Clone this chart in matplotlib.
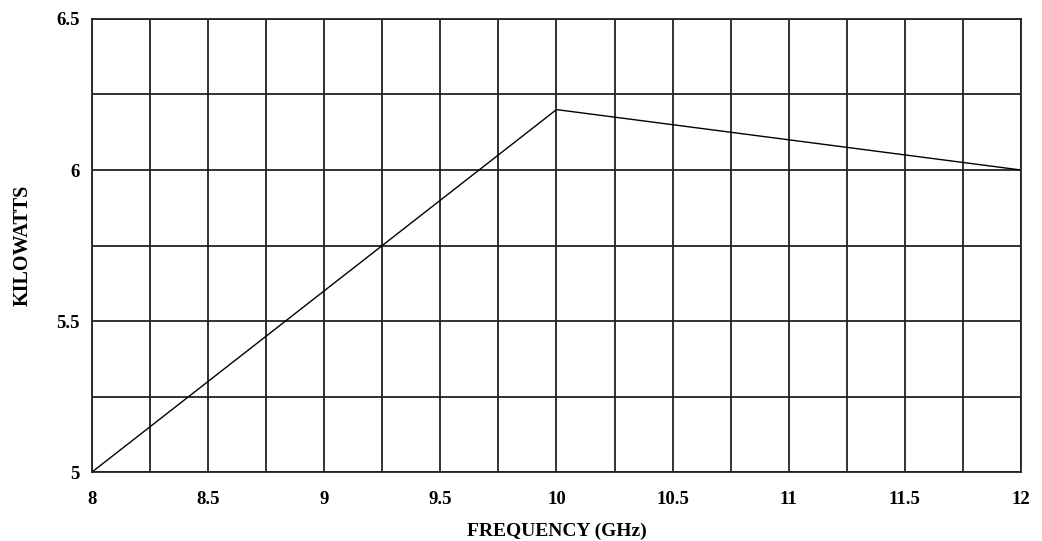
import matplotlib.pyplot as plt
import numpy as np

freq = [8, 10, 12]
kw = [5, 6.2, 6.0]

xticks = [8, 8.5, 9, 9.5, 10, 10.5, 11, 11.5, 12]
xticklabels = ['8', '8.5', '9', '9.5', '10', '10.5', '11', '11.5', '12']
yticks = [5, 5.5, 6, 6.5]
yticklabels = ['5', '5.5', '6', '6.5']

plt.rcParams['font.family'] = 'Liberation Serif'

fig = plt.figure(figsize=(10.42, 5.41), dpi=100)
ax = fig.add_axes([0.0883, 0.1275, 0.8915, 0.8374])

ax.plot(freq, kw, color='black', linewidth=1.0)

ax.set_xlim(8, 12)
ax.set_ylim(5, 6.5)
ax.set_xticks(np.arange(8, 12.01, 0.25), minor=True)
ax.set_yticks(np.arange(5, 6.51, 0.25), minor=True)
ax.set_xticks(xticks)
ax.set_xticklabels(xticklabels, fontsize=13.5, fontweight='bold')
ax.set_yticks(yticks)
ax.set_yticklabels(yticklabels, fontsize=13.5, fontweight='bold')
ax.tick_params(which='both', length=0)
ax.tick_params(axis='x', pad=14)
ax.tick_params(axis='y', pad=9)
ax.grid(which='both', color='#222222', linewidth=1.3)
for s in ax.spines.values():
    s.set_color('#222222')
    s.set_linewidth(1.3)

ax.set_xlabel('FREQUENCY (GHz)', fontsize=14, fontweight='bold', labelpad=10)
ax.set_ylabel('KILOWATTS', fontsize=14.5, fontweight='bold', labelpad=17)

plt.savefig('out.png', dpi=100)
